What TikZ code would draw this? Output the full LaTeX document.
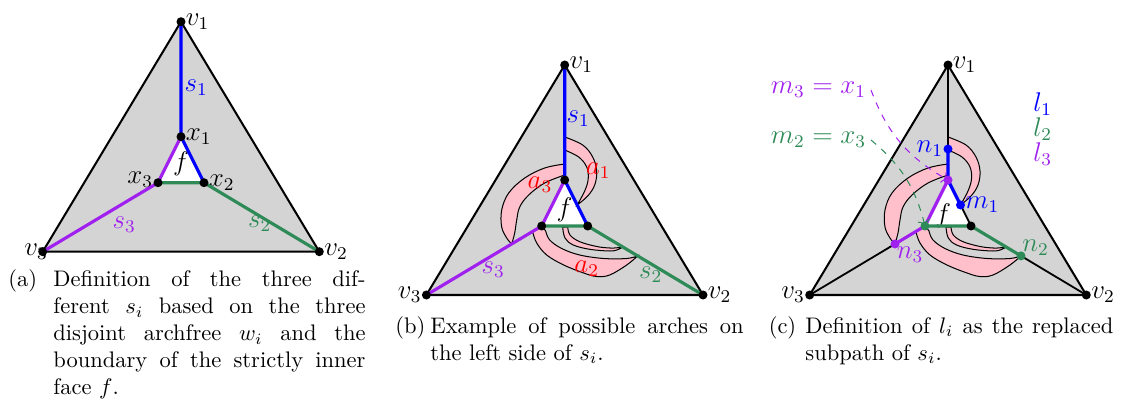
\documentclass[tikz,border=0pt]{standalone}
\usepackage{tikz}
\usepackage{xcolor}
\usepackage{amsmath}
\usetikzlibrary{arrows.meta, positioning, calc}

\definecolor{facegray}{gray}{0.83}
\definecolor{sblue}{HTML}{0000FF}
\definecolor{sgreen}{HTML}{2E8B57}
\definecolor{spurple}{HTML}{A020F0}
\definecolor{archpink}{HTML}{FFC0CB}
\definecolor{archred}{HTML}{FF0000}

\tikzset{
  lbl/.style={font=\large, inner sep=2pt},
  lblb/.style={lbl, text=sblue},
  lblg/.style={lbl, text=sgreen},
  lblp/.style={lbl, text=spurple},
  lblr/.style={lbl, text=archred},
  captag/.style={font=\normalsize, inner sep=0pt, anchor=base west},
  captxt/.style={captag, text width=#1, align=justify},
  %
  vtx/.style={circle, fill=black, inner sep=0pt, minimum size=4pt},
  vtxb/.style={vtx, fill=sblue},
  vtxg/.style={vtx, fill=sgreen},
  vtxp/.style={vtx, fill=spurple},
  %
  hull/.style={draw=black, line width=0.9pt, fill=facegray},
  rim/.style={draw=black, line width=0.8pt},
  pathb/.style={draw=sblue, line width=1.4pt},
  pathg/.style={draw=sgreen, line width=1.4pt},
  pathp/.style={draw=spurple, line width=1.4pt},
  archband/.style={draw=black, line width=0.45pt, fill=archpink},
  pointer/.style={dashed, line width=0.45pt, ->},
}

% outer triangle v1 v2 v3 and the face f = x1 x2 x3
\newcommand{\triframe}{%
  \coordinate (v1) at (0,230);
  \coordinate (v2) at (138.3,0);
  \coordinate (v3) at (-138.3,0);
  \coordinate (x1) at (0,115);
  \coordinate (x2) at (23,69);
  \coordinate (x3) at (-23,69);
}

% the pink arches of (b) and (c)
\newcommand{\archbands}{%
  \draw[archband] plot[smooth, tension=0.6] coordinates
      {(0,158) (18,150) (28,138) (32,124) (30,110) (23,99) (12.5,90)}
    -- plot[smooth, tension=0.6] coordinates
      {(12.5,90) (20,104) (23.5,116) (22,128) (14,138) (0,145)} -- cycle;
  \draw[archband] plot[smooth, tension=0.6] coordinates
      {(0,131) (-20,127) (-40,117) (-56,102) (-63,85) (-63,68) (-58,57) (-53,51)}
    -- plot[smooth, tension=0.6] coordinates
      {(-53,51) (-50,62) (-48,75) (-45,88) (-36,100) (-20,112) (0,120)} -- cycle;
  \draw[archband] (-23,69) -- plot[smooth, tension=0.6] coordinates
      {(-32,63) (-28,52) (-18,40) (-1,30) (19,22) (32,18.5) (45,20) (62,30) (73,39.1)}
    -- plot[smooth, tension=0.6] coordinates
      {(73,39.1) (62,36.5) (39,36.5) (15,40) (-3,46.5) (-15,55) (-19,64)} -- cycle;
  \draw[archband] plot[smooth, tension=0.6] coordinates
      {(-2,68) (0.3,57) (8.6,50) (25,45.7) (45,44) (53,45.3) (58,48)}
    -- plot[smooth, tension=0.6] coordinates
      {(58,48) (52,47.2) (45,47) (32,48.5) (15,53.3) (5.3,60) (3,68)} -- cycle;
}

\begin{document}
\begin{tikzpicture}[x=0.4444pt, y=0.4444pt]
  \useasboundingbox (0,0) rectangle (1128,416);

  % --- (a) the three s_i -----------------------------------------------
  \begin{scope}[shift={(181,164.3)}, name prefix=a-]
    \triframe
    \draw[hull] (v1) -- (v2) -- (v3) -- cycle;
    \fill[white] (x1) -- (x2) -- (x3) -- cycle;

    \node[lbl, right=0pt of v1] (lv1) {$v_1$};
    \node[lbl, right=0pt of v2] (lv2) {$v_2$};
    \node[lbl, left=-4.5pt of v3] (lv3) {$v_3$};
    \node[lbl, right=0pt of x1] (lx1) {$x_1$};
    \node[lbl, right=0pt of x2] (lx2) {$x_2$};
    \node[lbl, left=0pt of x3, yshift=1.5pt] (lx3) {$x_3$};
    \node[lbl] (lf) at (0,88) {$f$};
    \node[lblb] (ls1) at (15.3,164.4) {$s_1$};
    \node[lblg] (ls2) at (78.7,27.7) {$s_2$};
    \node[lblp] (ls3) at (-56.8,26.7) {$s_3$};

    \draw[pathb] (v1) -- (x1) -- (x2);
    \draw[pathg] (v2) -- (x2) -- (x3);
    \draw[pathp] (v3) -- (x3) -- (x1);
    \foreach \p in {v1,v2,v3,x1,x2,x3}
      \node[vtx] (d\p) at (\p) {};
  \end{scope}

  % --- (b) arches on the left side ------------------------------------
  \begin{scope}[shift={(564.7,121)}, name prefix=b-]
    \triframe
    \draw[hull] (v1) -- (v2) -- (v3) -- cycle;
    \fill[white] (x1) -- (x2) -- (x3) -- cycle;
    \archbands

    \node[lbl, right=0pt of v1] (lv1) {$v_1$};
    \node[lbl, right=0pt of v2] (lv2) {$v_2$};
    \node[lbl, left=0pt of v3] (lv3) {$v_3$};
    \node[lbl] (lf) at (0,85) {$f$};
    \node[lblb] (ls1) at (13.6,176) {$s_1$};
    \node[lblg] (ls2) at (86,20) {$s_2$};
    \node[lblp] (ls3) at (-71.4,25) {$s_3$};
    \node[lblr] (la1) at (33.6,124.3) {$a_1$};
    \node[lblr] (la2) at (22,26.7) {$a_2$};
    \node[lblr] (la3) at (-24.7,110) {$a_3$};

    \draw[pathb] (v1) -- (x1) -- (x2);
    \draw[pathg] (v2) -- (x2) -- (x3);
    \draw[pathp] (v3) -- (x3) -- (x1);
    \foreach \p in {v1,v2,v3,x1,x2,x3}
      \node[vtx] (d\p) at (\p) {};
  \end{scope}

  % --- (c) the replaced subpaths l_i ----------------------------------
  \begin{scope}[shift={(948,121)}, name prefix=c-]
    \triframe
    \coordinate (n1) at (0,146);
    \coordinate (m1) at (12.5,90);
    \coordinate (n2) at (73,39.1);
    \coordinate (n3) at (-53,51);
    \draw[hull] (v1) -- (v2) -- (v3) -- cycle;
    \fill[white] (x1) -- (x2) -- (x3) -- cycle;
    \archbands

    \node[lbl, right=0pt of v1] (lv1) {$v_1$};
    \node[lbl, right=0pt of v2] (lv2) {$v_2$};
    \node[lbl, left=0pt of v3] (lv3) {$v_3$};
    \node[lbl] (lf) at (-5,79) {$f$};
    \node[lblb, left=0pt of n1] (ln1) {$n_1$};
    \node[lblb, right=0pt of m1] (lm1) {$m_1$};
    \node[lblg, anchor=south west] (ln2) at ($(n2)+(-3.5,-4.3)$) {$n_2$};
    \node[lblp, anchor=north west] (ln3) at ($(n3)+(-3,2)$) {$n_3$};
    \node[lblb, inner sep=0pt] (ll1) at (94.7,191) {$l_1$};
    \node[lblg, inner sep=0pt] (ll2) at (94.7,166) {$l_2$};
    \node[lblp, inner sep=0pt] (ll3) at (94.7,141) {$l_3$};
    \node[lblp, anchor=east] (lm3) at (-77,205) {$m_3 = x_1$};
    \node[lblg, anchor=east] (lm2) at (-77,155) {$m_2 = x_3$};

    \draw[rim] (v1) -- (n1);
    \draw[rim] (n2) -- (v2);
    \draw[rim] (n3) -- (v3);
    \draw[rim] (m1) -- (x2);
    \draw[pathb] (n1) -- (x1) -- (m1);
    \draw[pathg] (x3) -- (x2) -- (n2);
    \draw[pathp] (n3) -- (x3) -- (x1);
    \foreach \p in {v1,v2,v3,x2}
      \node[vtx] (d\p) at (\p) {};
    \node[vtxb] (dn1) at (n1) {};
    \node[vtxb] (dm1) at (m1) {};
    \node[vtxp] (dx1) at (x1) {};
    \node[vtxp] (dn3) at (n3) {};
    \node[vtxg] (dx3) at (x3) {};
    \node[vtxg] (dn2) at (n2) {};

    \draw[pointer, spurple] (lm3.east) to[bend right=20] (dx1);
    \draw[pointer, sgreen] (lm2.east) to[bend left=18] (dx3);
  \end{scope}

  % --- captions ---------------------------------------------------------
  \node[captag] (tga) at (8,129.3) {(a)};
  \node[captxt=138.7pt] (cpa) at (53,129.3)
    {Definition of the three dif-\linebreak ferent $s_i$ based on the three\linebreak
     disjoint archfree $w_i$ and the\linebreak boundary of the strictly inner\linebreak
     face $f$.};
  \node[captag] (tgb) at (395,82.7) {(b)};
  \node[captxt=139.2pt] (cpb) at (430,82.7)
    {Example of possible arches on\linebreak the left side of $s_i$.};
  \node[captag] (tgc) at (768.3,82.7) {(c)};
  \node[captxt=136.9pt] (cpc) at (805,82.7)
    {Definition of $l_i$ as the replaced\linebreak subpath of $s_i$.};

\end{tikzpicture}
\end{document}
